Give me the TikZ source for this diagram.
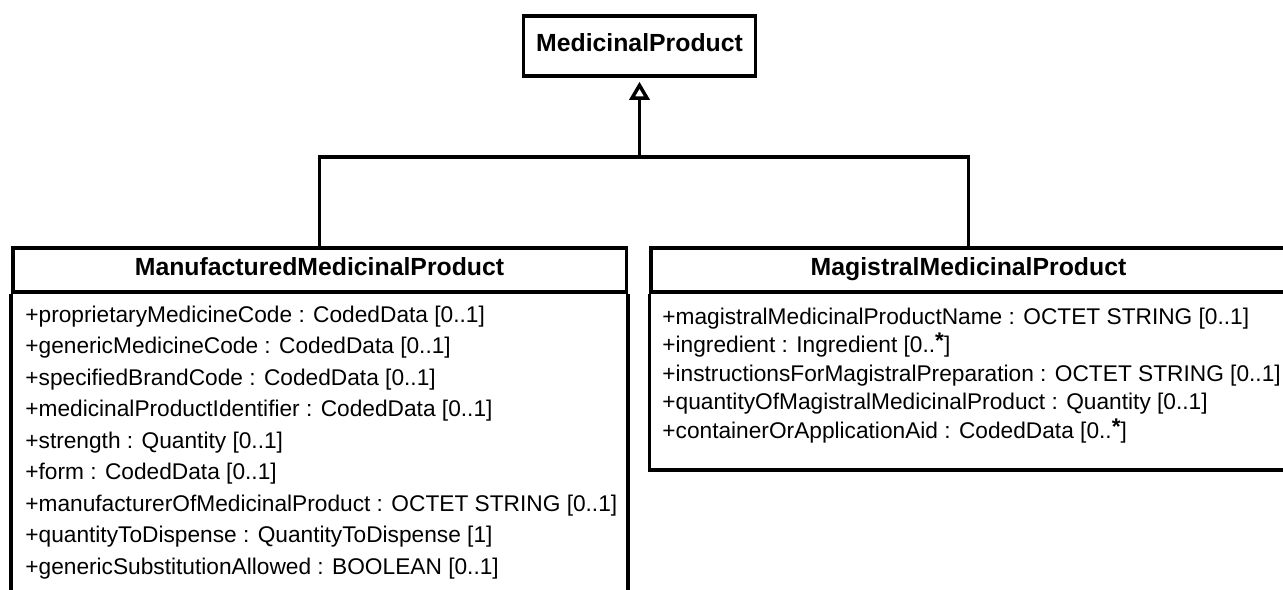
\documentclass[tikz,border=0pt]{standalone}
\usepackage{fontspec}
\setmainfont{Liberation Sans}
\usetikzlibrary{arrows.meta}
\newcommand{\mstar}{\raisebox{0.18em}{\bfseries *}}
\tikzset{
  classhead/.style={draw, line width=1.75pt, inner sep=0pt, text height=0.72em, text depth=0.2em, font=\fontsize{12.4}{14}\selectfont\bfseries},
  attr/.style={anchor=west, inner sep=0pt, text height=0.72em, text depth=0.2em, font=\fontsize{11.35}{13}\selectfont},
  conn/.style={line width=1.75pt},
  gen/.style={line width=1.75pt, -{Triangle[open, length=9pt, width=10pt]}, shorten >=2pt}
}
\begin{document}
\begin{tikzpicture}[x=0.5pt,y=-0.5pt]
\useasboundingbox (0,0) rectangle (1283,589);
\clip (0,0) rectangle (1283,589);
% parent
\node[classhead, minimum width=116pt, minimum height=30pt] (mp) at (639.5,46) {MedicinalProduct};
% left class
\node[classhead, minimum width=306.75pt, minimum height=22pt] (mmp) at (319.5,270) {ManufacturedMedicinalProduct};
\draw[conn] (mmp.south west) -- ++(0,330);
\draw[conn] (mmp.south east) -- ++(0,330);
% right class
\node[classhead, minimum width=317.5pt, minimum height=22pt] (mag) at (968.5,270) {MagistralMedicinalProduct};
\draw[conn] (mag.south west) -- (mag.south west |- 0,470) -- (mag.south east |- 0,470) -- (mag.south east);
% attributes left
\node[attr] (a1) at (25,317) {+proprietaryMedicineCode : CodedData [0..1]};
\node[attr] (a2) at (25,348.5) {+genericMedicineCode : CodedData [0..1]};
\node[attr] (a3) at (25,380) {+specifiedBrandCode : CodedData [0..1]};
\node[attr] (a4) at (25,411.5) {+medicinalProductIdentifier : CodedData [0..1]};
\node[attr] (a5) at (25,443) {+strength : Quantity [0..1]};
\node[attr] (a6) at (25,474.5) {+form : CodedData [0..1]};
\node[attr] (a7) at (25,506) {+manufacturerOfMedicinalProduct : OCTET STRING [0..1]};
\node[attr] (a8) at (25,537.5) {+quantityToDispense : QuantityToDispense [1]};
\node[attr] (a9) at (25,569) {+genericSubstitutionAllowed : BOOLEAN [0..1]};
% attributes right
\node[attr] (b1) at (662,319) {+magistralMedicinalProductName : OCTET STRING [0..1]};
\node[attr] (b2) at (662,347.5) {+ingredient : Ingredient [0..\mstar]};
\node[attr] (b3) at (662,376) {+instructionsForMagistralPreparation : OCTET STRING [0..1]};
\node[attr] (b4) at (662,404.5) {+quantityOfMagistralMedicinalProduct : Quantity [0..1]};
\node[attr] (b5) at (662,433) {+containerOrApplicationAid : CodedData [0..\mstar]};
% generalization
\coordinate (junction) at (639.5,157);
\draw[conn] (mmp.north) |- (junction) -| (mag.north);
\draw[gen] (junction) -- (mp.south);
\end{tikzpicture}
\end{document}
